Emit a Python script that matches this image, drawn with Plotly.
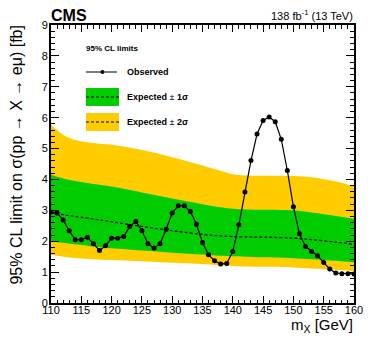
import plotly.graph_objects as go

# Observed limit (fb) vs mass (GeV)
obs_mass = list(range(110, 161))
obs_limit = [2.95, 2.91, 2.69, 2.34, 2.05, 2.05, 2.13, 1.92, 1.70, 1.85,
             2.10, 2.10, 2.15, 2.48, 2.64, 2.34, 1.92, 1.78, 1.92, 2.39,
             2.91, 3.15, 3.15, 2.96, 2.55, 1.96, 1.56, 1.37, 1.26, 1.28,
             1.67, 2.53, 3.59, 4.61, 5.47, 5.91, 6.02, 5.87, 5.30, 4.29,
             3.12, 2.24, 1.83, 1.67, 1.53, 1.31, 1.10, 0.97, 0.95, 0.95,
             0.94]

# Expected limits
exp_mass = [110, 112, 114, 117, 120, 125, 130, 135, 138, 140, 142, 145, 150, 153, 157, 160]
exp_median = [2.92, 2.86, 2.80, 2.72, 2.63, 2.48, 2.34, 2.22, 2.17, 2.15, 2.14, 2.13, 2.10, 2.05, 1.97, 1.90]
exp_p1 = [4.15, 4.03, 3.95, 3.85, 3.77, 3.58, 3.38, 3.20, 3.10, 3.05, 3.03, 3.02, 3.00, 2.93, 2.82, 2.73]
exp_m1 = [2.00, 1.95, 1.90, 1.83, 1.77, 1.70, 1.63, 1.57, 1.53, 1.51, 1.50, 1.48, 1.45, 1.42, 1.37, 1.32]
exp_p2 = [5.77, 5.45, 5.28, 5.18, 5.12, 4.95, 4.72, 4.45, 4.28, 4.17, 4.13, 4.12, 4.11, 4.07, 3.93, 3.78]
exp_m2 = [1.56, 1.50, 1.46, 1.42, 1.39, 1.35, 1.30, 1.26, 1.22, 1.20, 1.18, 1.17, 1.15, 1.12, 1.08, 1.03]

x_ticks = list(range(110, 161, 5))
y_ticks = list(range(0, 10))

GREEN = "#00CC00"
YELLOW = "#FFCC00"
FONT = "Liberation Sans, Arial, Helvetica, sans-serif"

fig = go.Figure()

# 2 sigma band
fig.add_trace(go.Scatter(x=exp_mass, y=exp_p2, mode="lines", line=dict(width=0, color=YELLOW, shape="spline"),
                         hoverinfo="skip", showlegend=False))
fig.add_trace(go.Scatter(x=exp_mass, y=exp_m2, mode="lines", line=dict(width=0, color=YELLOW, shape="spline"),
                         fill="tonexty", fillcolor=YELLOW, hoverinfo="skip", showlegend=False))
# 1 sigma band
fig.add_trace(go.Scatter(x=exp_mass, y=exp_p1, mode="lines", line=dict(width=0, color=GREEN, shape="spline"),
                         hoverinfo="skip", showlegend=False))
fig.add_trace(go.Scatter(x=exp_mass, y=exp_m1, mode="lines", line=dict(width=0, color=GREEN, shape="spline"),
                         fill="tonexty", fillcolor=GREEN, hoverinfo="skip", showlegend=False))
# median
fig.add_trace(go.Scatter(x=exp_mass, y=exp_median, mode="lines",
                         line=dict(width=1.2, color="black", dash="3px,2px", shape="spline"),
                         showlegend=False))
# observed
fig.add_trace(go.Scatter(x=obs_mass, y=obs_limit, mode="lines+markers",
                         line=dict(width=1.2, color="black"),
                         marker=dict(size=5, color="black"), showlegend=False))

# page-pixel -> paper coordinate helpers (plot area spans x 51..363, y 25..303 on the page)
def px2x(px):
    return (px - 51) / 312.0

def py2y(py):
    return (303 - py) / 278.0

shapes = []
annotations = []
annotations.append(dict(x=px2x(85), y=py2y(48), xref="paper", yref="paper", text="<b>95% CL limits</b>",
                        showarrow=False, xanchor="left", yanchor="middle",
                        font=dict(family=FONT, size=8, color="black")))
# observed legend
shapes.append(dict(type="line", xref="paper", yref="paper", x0=px2x(87), x1=px2x(119), y0=py2y(72), y1=py2y(72),
                   line=dict(color="black", width=1.2)))
shapes.append(dict(type="circle", xref="paper", yref="paper", x0=px2x(102), x1=px2x(106),
                   y0=py2y(74), y1=py2y(70), fillcolor="black", line=dict(color="black", width=0)))
annotations.append(dict(x=px2x(127), y=py2y(72), xref="paper", yref="paper", text="<b>Observed</b>",
                        showarrow=False, xanchor="left", yanchor="middle",
                        font=dict(family=FONT, size=9, color="black")))
# 1 sigma legend
shapes.append(dict(type="rect", xref="paper", yref="paper", x0=px2x(87), x1=px2x(121), y0=py2y(106), y1=py2y(88),
                   fillcolor=GREEN, line=dict(width=0)))
shapes.append(dict(type="line", xref="paper", yref="paper", x0=px2x(87), x1=px2x(121), y0=py2y(97), y1=py2y(97),
                   line=dict(color="black", width=1.2, dash="3px,2px")))
annotations.append(dict(x=px2x(127), y=py2y(97), xref="paper", yref="paper", text="<b>Expected</b> ± <b>1σ</b>",
                        showarrow=False, xanchor="left", yanchor="middle",
                        font=dict(family=FONT, size=9, color="black")))
# 2 sigma legend
shapes.append(dict(type="rect", xref="paper", yref="paper", x0=px2x(87), x1=px2x(121), y0=py2y(131), y1=py2y(113),
                   fillcolor=YELLOW, line=dict(width=0)))
shapes.append(dict(type="line", xref="paper", yref="paper", x0=px2x(87), x1=px2x(121), y0=py2y(122), y1=py2y(122),
                   line=dict(color="black", width=1.2, dash="3px,2px")))
annotations.append(dict(x=px2x(127), y=py2y(122), xref="paper", yref="paper", text="<b>Expected</b> ± <b>2σ</b>",
                        showarrow=False, xanchor="left", yanchor="middle",
                        font=dict(family=FONT, size=9, color="black")))

# CMS label and lumi
annotations.append(dict(x=px2x(50), y=py2y(15), xref="paper", yref="paper", text="<b>CMS</b>",
                        showarrow=False, xanchor="left", yanchor="middle", borderpad=0,
                        font=dict(family=FONT, size=16, color="black")))
annotations.append(dict(x=px2x(364), y=py2y(15), xref="paper", yref="paper",
                        text="138 fb<sup>-1</sup> (13 TeV)",
                        showarrow=False, xanchor="right", yanchor="middle",
                        font=dict(family=FONT, size=11, color="black")))
# Axis titles
annotations.append(dict(x=px2x(364), y=py2y(325), xref="paper", yref="paper",
                        text="m<sub>X</sub> [GeV]",
                        showarrow=False, xanchor="right", yanchor="middle",
                        font=dict(family=FONT, size=15, color="black")))
annotations.append(dict(x=px2x(15), y=py2y(24), xref="paper", yref="paper",
                        text="95% CL limit on σ(pp → X → eμ) [fb]", textangle=-90,
                        showarrow=False, xanchor="center", yanchor="top",
                        font=dict(family=FONT, size=16, color="black")))

# page body has an 8px margin: shrink the figure and margins accordingly
fig.update_layout(
    width=366, height=336,
    margin=dict(l=43, r=11, t=17, b=41),
    paper_bgcolor="white", plot_bgcolor="white",
    shapes=shapes, annotations=annotations,
    showlegend=False,
    font=dict(family=FONT, color="black"),
)
fig.update_xaxes(
    range=[110, 160], tickvals=x_ticks, ticktext=[str(v) for v in x_ticks],
    ticks="inside", ticklen=7, tickwidth=1, tickcolor="black",
    minor=dict(dtick=1, ticks="inside", ticklen=3.5, tickwidth=1, tickcolor="black"),
    showline=True, linecolor="black", linewidth=2, mirror="ticks",
    showgrid=False, zeroline=False, ticklabelstandoff=-4,
    tickfont=dict(family=FONT, size=11, color="black"),
)
fig.update_yaxes(
    range=[0, 9], tickvals=y_ticks, ticktext=[str(v) for v in y_ticks],
    ticks="inside", ticklen=8, tickwidth=1, tickcolor="black",
    minor=dict(dtick=0.2, ticks="inside", ticklen=4, tickwidth=1, tickcolor="black"),
    showline=True, linecolor="black", linewidth=2, mirror="ticks",
    showgrid=False, zeroline=False, ticklabelstandoff=-1,
    tickfont=dict(family=FONT, size=11, color="black"),
)

fig.write_html("out.html")
